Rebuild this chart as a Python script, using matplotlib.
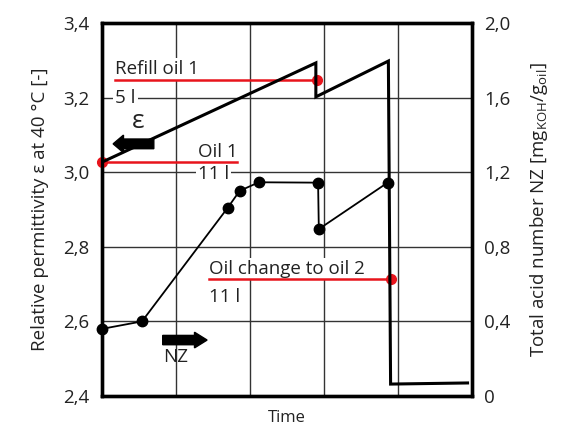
import matplotlib as mpl
mpl.use('Agg')
import matplotlib.pyplot as plt

plt.rcParams['font.family'] = ['Open Sans', 'DejaVu Sans']
plt.rcParams['mathtext.fontset'] = 'custom'
plt.rcParams['mathtext.rm'] = 'Open Sans'

# relative permittivity (left axis), time in arbitrary units 0..5
eps_time = [0.0, 2.89, 2.89, 3.87, 3.90, 4.94]
eps_value = [3.027, 3.293, 3.202, 3.298, 2.432, 2.435]

# total acid number NZ (right axis)
nz_time = [0.0, 0.54, 1.70, 1.86, 2.12, 2.92, 2.93, 3.86]
nz_value = [0.36, 0.40, 1.01, 1.10, 1.146, 1.144, 0.895, 1.144]

left_ticks = [2.4, 2.6, 2.8, 3.0, 3.2, 3.4]
left_labels = ['2,4', '2,6', '2,8', '3,0', '3,2', '3,4']
right_ticks = [0, 0.4, 0.8, 1.2, 1.6, 2.0]
right_labels = ['0', '0,4', '0,8', '1,2', '1,6', '2,0']

red = '#e8141c'
txt = '#222222'

fig = plt.figure(figsize=(5.69, 4.26), dpi=100)
ax = fig.add_axes([0.1793, 0.0704, 0.6502, 0.8756])
ax2 = ax.twinx()

ax.set_xlim(0, 5)
ax.set_ylim(2.4, 3.4)
ax2.set_ylim(0, 2.0)
ax.set_xticks([1, 2, 3, 4])
ax.set_xticklabels([])
ax.set_yticks(left_ticks)
ax.set_yticklabels(left_labels, fontsize=13.5, color=txt)
ax2.set_yticks(right_ticks)
ax2.set_yticklabels(right_labels, fontsize=13.5, color=txt)
ax.tick_params(length=0, pad=9)
ax2.tick_params(length=0, pad=9)
ax.grid(True, color='#333333', lw=1.0)
ax.set_axisbelow(True)
for a in (ax, ax2):
    for s in a.spines.values():
        s.set_linewidth(2.4)
        s.set_color('black')

ax.set_xlabel('Time', fontsize=12, color=txt, labelpad=1)
ax.set_ylabel('Relative permittivity ε at 40 °C [-]', fontsize=13.5, color=txt, labelpad=10)
ax2.set_ylabel(r'Total acid number NZ [mg$_\mathregular{KOH}$/g$_\mathregular{oil}$]',
               fontsize=13.5, color=txt, labelpad=12)

# annotation boxes (white background hides grid)
bb = dict(facecolor='white', edgecolor='none', pad=1.5)
fs = 13.5
ax.text(0.18, 3.252, 'Refill oil 1', fontsize=fs, color=txt, va='bottom', ha='left', bbox=bb, zorder=3)
ax.text(0.18, 3.2, '5 l', fontsize=fs, color=txt, va='center', ha='left', bbox=bb, zorder=3)
ax.plot([0.18, 2.90], [3.247, 3.247], color=red, lw=1.8, zorder=4)
ax.plot([2.90], [3.247], 'o', color=red, ms=7, zorder=5)

ax.text(1.30, 3.030, 'Oil 1', fontsize=fs, color=txt, va='bottom', ha='left', zorder=3)
ax.text(1.30, 2.996, '11 l', fontsize=fs, color=txt, va='center', ha='left', bbox=bb, zorder=3)
ax.plot([0.0, 1.82], [3.027, 3.027], color=red, lw=1.8, zorder=4, clip_on=False)
ax.plot([0.0], [3.027], 'o', color=red, ms=7, zorder=5, clip_on=False)

ax.text(1.45, 2.717, 'Oil change to oil 2', fontsize=fs, color=txt, va='bottom', ha='left', bbox=bb, zorder=3)
ax.text(1.45, 2.666, '11 l', fontsize=fs, color=txt, va='center', ha='left', bbox=bb, zorder=3)
ax.plot([1.45, 3.90], [2.713, 2.713], color=red, lw=1.8, zorder=4)
ax.plot([3.90], [2.713], 'o', color=red, ms=7, zorder=5)

# data lines
ax.plot(eps_time, eps_value, color='black', lw=2.2, zorder=6, solid_joinstyle='miter')
ax2.plot(nz_time, nz_value, color='black', lw=1.3, marker='o', ms=7.5, zorder=6, clip_on=False)
ax.set_zorder(ax2.get_zorder() - 1)
ax.patch.set_visible(True)
ax2.patch.set_visible(False)

# direction arrows
ax.arrow(0.70, 3.076, -0.55, 0, width=0.026, head_width=0.047, head_length=0.14,
         length_includes_head=True, color='black', zorder=7)
ax.text(0.49, 3.135, 'ε', fontsize=19, color=txt, ha='center', va='center')
ax.arrow(0.82, 2.55, 0.60, 0, width=0.025, head_width=0.042, head_length=0.17,
         length_includes_head=True, color='black', zorder=7)
ax.text(0.99, 2.505, 'NZ', fontsize=fs, color=txt, ha='center', va='center')

fig.savefig('out.png', dpi=100)
